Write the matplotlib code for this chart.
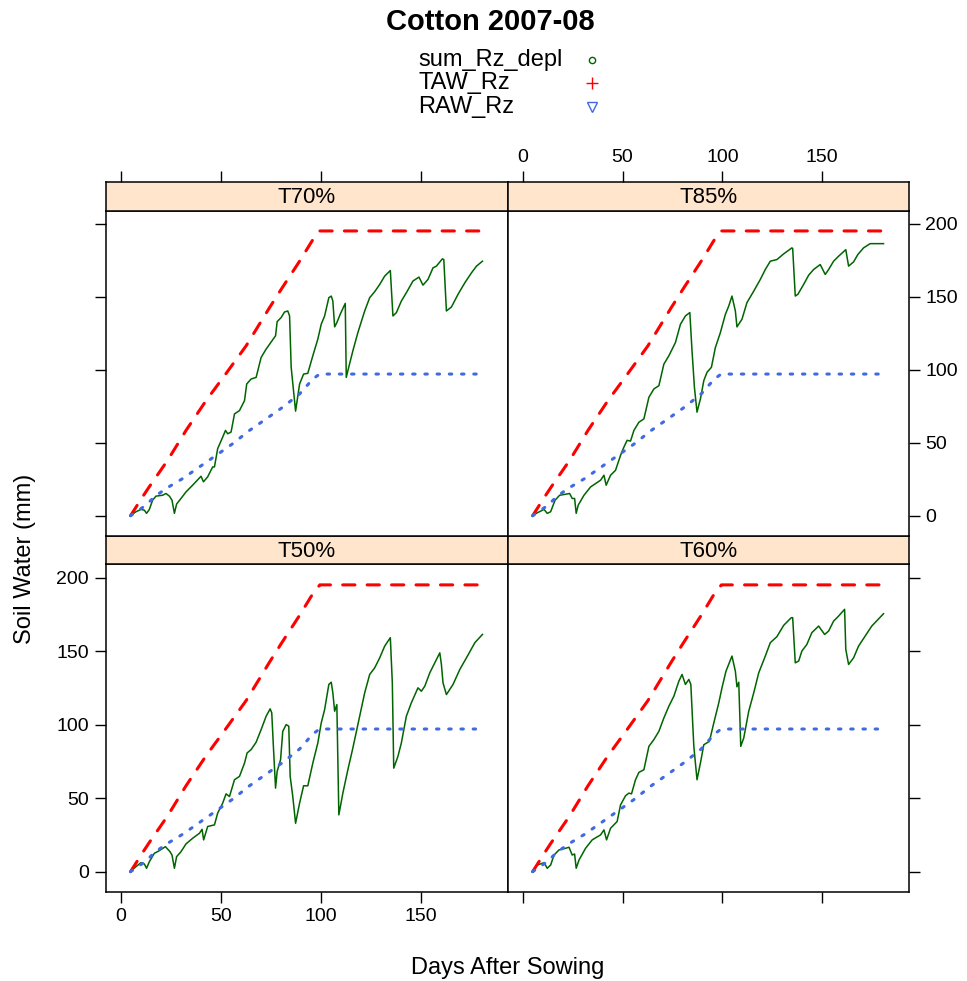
import matplotlib
matplotlib.use("Agg")
import matplotlib.pyplot as plt

plt.rcParams['font.family'] = ['Liberation Sans', 'DejaVu Sans']

# Chart text
title = "Cotton 2007-08"
series_names = ["sum_Rz_depl", "TAW_Rz", "RAW_Rz"]
panel_names = ["T50%", "T60%", "T70%", "T85%"]
x_label = "Days After Sowing"
y_label = "Soil Water (mm)"
x_ticks = [0, 50, 100, 150]
y_ticks = [0, 50, 100, 150, 200]

# Total and readily available water (same in every panel)
taw_days = [5, 11, 14.3, 23.5, 32.7, 42.7, 51.9, 62.7, 74.4, 80.2, 89.4, 96, 99.5, 181]
taw_values = [0, 12.9, 19.7, 37.9, 58.4, 78.8, 95.9, 116.3, 142.5, 155, 174.3, 189, 195, 195]
raw_days = [5, 12.7, 16.9, 22.7, 31, 39.4, 47.7, 56, 64.4, 72.7, 81, 89.4, 96, 99.4, 181]
raw_values = [0, 7.2, 12.9, 18.6, 25.4, 33.4, 41.3, 49.3, 58.4, 66.3, 74.3, 83.4, 93.6, 97, 97]

# Root zone depletion per treatment
t50_days = [4.9, 7.7, 10.2, 11.9, 13, 14.4, 16.9, 19.4, 22.4, 24.7, 25.7, 26.9, 28, 30.2, 32.7,
            36, 39.4, 40.7, 41.5, 43.5, 46.9, 48.5, 51, 52.7, 54.4, 56.9, 59.4, 61.9, 63.2,
            65.2, 67.7, 70.2, 72.7, 74.7, 75.5, 76.4, 77.4, 78.2, 79.9, 81, 82.7, 84, 84.7,
            86, 87.4, 89.4, 91.4, 93.5, 96, 98.5, 100.2, 101.9, 104, 105.2, 106, 106.9, 108,
            109, 111, 113.5, 116, 118.5, 121.9, 124.4, 126.9, 129.4, 131.9, 134.7, 135.7,
            136.4, 138.5, 140.2, 142.7, 145.2, 148.5, 150.2, 151.9, 154.4, 156.9, 159.4,
            160.2, 161, 162.7, 166, 169.4, 172.7, 176.9, 180.7]
t50_depl = [0, 3.4, 6.1, 5.2, 2.3, 6.8, 12.5, 14.3, 17, 13.6, 11.3, 2.3, 10.2, 13.6, 18.9,
            22.7, 26.1, 28.8, 21.6, 30.7, 31.8, 39.8, 46.6, 52.9, 51.1, 62.5, 64.8, 73.8, 80.7,
            83, 88, 96.6, 105.7, 110.7, 108, 83, 56.8, 68.2, 76.1, 95.4, 100, 98.9, 64.8,
            51.1, 32.9, 46.6, 58.4, 58.4, 73.8, 87.5, 101.1, 110.2, 127.3, 128.8, 121.6, 109.1,
            113.6, 38.6, 53.4, 69.3, 84.1, 100, 121.6, 134.1, 138.6, 145.4, 153.4, 159.1, 128.4,
            70.4, 78.4, 87.5, 105.7, 114.8, 125, 122.7, 126.1, 135.2, 142, 148.8,
            140.9, 128.4, 120.4, 127.3, 137.5, 145.4, 155.7, 161.3]

t60_days = [4.8, 7.3, 10.7, 12.3, 14, 15.7, 18.2, 21.5, 23.2, 24.8, 26, 26.8, 28.2, 31.5, 34.8,
            39, 40.7, 42, 44, 47.3, 49, 51.5, 53.2, 54.5, 56.5, 58.2, 60.7, 63.2, 65.7, 68.2,
            70.7, 73.2, 75.7, 78.2, 79.8, 81.5, 83.2, 84.2, 85.7, 87.3, 89, 90.7, 93.5, 95.7,
            98.2, 99.8, 101.8, 104.8, 106.5, 107.3, 108.2, 109.2, 110.7, 113.2, 115.7, 118.2,
            121.5, 124, 127.3, 130.7, 134.5, 135.2, 136.5, 138.2, 139.8, 142.3, 144.8, 148.2,
            151.2, 153.2, 155.7, 158.2, 161.2, 161.8, 163.2, 165.7, 168.2, 171.5, 174.8, 180.7]
t60_depl = [0, 4.5, 6.1, 2.3, 4.5, 11.3, 14.8, 15.9, 16.6, 11.3, 12, 2.3, 7.9, 15.9, 21.6,
            25, 28.4, 21.6, 29.5, 34.1, 45.4, 51.6, 53.4, 52.9, 62.5, 67.5, 69.3, 85.2, 89.8, 95.4,
            104.5, 112.5, 119.3, 129.5, 134.1, 127.3, 130.7, 127.3, 85.2, 62.5, 73.8, 86.3, 88.6, 101.1,
            114.8, 125, 136.3, 146.6, 136.3, 125.7, 128.8, 85.2, 90.9, 109.1, 121.6, 135.2,
            146.6, 155.7, 159.8, 167.5, 172.7, 172.7, 142, 143.2, 150, 154.5, 162.5, 167,
            161.3, 163.6, 170.4, 173.8, 178.4, 151.1, 140.9, 145.4, 153.4, 160.2, 167, 175.4]

t70_days = [4.9, 7.7, 10.2, 11.9, 13, 14.4, 16, 17.7, 21, 22.7, 24.4, 25.7, 26.9, 28, 30.2,
            32.7, 36, 40.2, 41.4, 43.5, 46, 46.9, 48.5, 51, 52.4, 53.5, 55.2, 56.9, 59.4, 61.9,
            63, 65.2, 67.7, 70.2, 72.7, 77.4, 78.2, 80.2, 81.9, 83.5, 84.4, 85.2, 87.4, 89.4,
            91.4, 93.5, 96, 98.5, 100.2, 101.9, 104, 105.2, 106, 106.9, 108, 109.7, 112.2,
            112.7, 113.5, 116, 118.5, 121.9, 124.4, 126.9, 129.4, 131.9, 134.7, 136, 137.7,
            140.2, 142.7, 146, 149, 151, 153.5, 156, 157.7, 160.7, 161.4, 162.7, 165.2, 168.5,
            171.9, 175.2, 177.7, 180.7]
t70_depl = [0, 2.7, 4.3, 3.8, 1.6, 4.3, 10.6, 13.4, 14, 15.2, 13.4, 10.6, 1.6, 8, 11.8,
            16.3, 20.9, 27, 23.2, 26.6, 33.4, 33.4, 45.9, 53.8, 58.4, 56.1, 57.3, 69.7, 72, 78.8,
            90.2, 93.6, 94.7, 108.4, 114.1, 123.2, 132.9, 135.7, 139.5, 140.2, 136.8, 101.6, 71.6, 90.2,
            97, 97.5, 109.5, 120.9, 131.1, 136.8, 149.3, 150.4, 147, 129.3, 132.2, 138, 145.4,
            94.7, 99.3, 112.9, 125.4, 140.2, 149.3, 153.4, 158.4, 164.1, 167.9, 136.8, 139,
            147, 152.7, 160.7, 163.4, 157.9, 161.8, 169.7, 170.9, 175.9, 175.4, 140.2, 142.9, 151.6,
            159.5, 166.3, 170.9, 174.3]

t85_days = [4.8, 7.3, 10.7, 12.3, 14, 16.2, 18.5, 21.5, 23.5, 24.8, 26, 26.8, 27.8, 30.7, 34,
            39, 40.7, 41.8, 44, 46.5, 49, 50.7, 52.3, 54, 55.7, 58.2, 60.7, 63.2, 65.7, 68.2,
            70.7, 73.2, 76.5, 79, 81.5, 83.7, 84.8, 86, 87.3, 89, 90.7, 92.3, 94.5, 96.5, 99,
            101.5, 103.2, 104.8, 106.5, 107.3, 109.8, 112.3, 115.7, 119, 121.5, 124, 127.3,
            130.7, 134.8, 135.2, 136.5, 137.8, 140.7, 143.2, 145.7, 149, 151.5, 153.2, 155.7,
            158.2, 161.8, 163.2, 165.7, 167.8, 170.7, 174, 180.7]
t85_depl = [0, 2, 4.3, 1.6, 2.7, 10.6, 14, 14.7, 15.2, 11.8, 11.8, 1.6, 7.2, 14, 19.7,
            24.3, 27.7, 20.9, 27.7, 31.1, 41.3, 47, 51.6, 51.1, 58.4, 64, 66.3, 81.1, 86.8, 89,
            103.8, 109.5, 118.6, 131.1, 136.8, 139.1, 112.9, 87.9, 70.9, 80, 92.5, 98.2, 101.6, 115.2, 125.4,
            137.9, 143.6, 150.4, 140.2, 129.3, 134.5, 145.9, 153.8, 161.8, 168.6, 174.3, 175.4,
            179.3, 183.4, 183, 150.4, 151.6, 158.4, 164.7, 168.6, 172, 165.2, 168.6, 174.3,
            177.7, 182.2, 170.9, 173.8, 178.8, 183.4, 186.3, 186.3]

depl_days = {"T50%": t50_days, "T60%": t60_days, "T70%": t70_days, "T85%": t85_days}
depl_values = {"T50%": t50_depl, "T60%": t60_depl, "T70%": t70_depl, "T85%": t85_depl}

green = "darkgreen"
red = "red"
blue = "royalblue"
strip_color = "#FFE5CC"

# Layout in pixels (left, top, right, bottom) of a 967 x 981 picture
W, H = 967, 981


def rect(left, top, right, bottom):
    return [left / W, 1 - bottom / H, (right - left) / W, (bottom - top) / H]


cols = {0: (105.5, 507.7), 1: (507.7, 908.7)}
rows = {0: (182.2, 210.5, 535.7), 1: (535.7, 564.3, 891.8)}
# panel -> (column, row, ticks left, ticks bottom, ticks right, ticks top, labels?)
layout = {
    "T50%": (0, 1),
    "T60%": (1, 1),
    "T70%": (0, 0),
    "T85%": (1, 0),
}

fig = plt.figure(figsize=(W / 100, H / 100), dpi=100)

tick_kw = dict(direction='out', length=8, width=1.0, labelsize=14, pad=4)

for name in panel_names:
    c, r = layout[name]
    x0, x1 = cols[c]
    strip_top, plot_top, plot_bottom = rows[r]

    ax = fig.add_axes(rect(x0, plot_top, x1, plot_bottom))
    strip = fig.add_axes(rect(x0, strip_top, x1, plot_top))

    ax.plot(depl_days[name], depl_values[name], color=green, lw=1.1)
    ax.plot(taw_days, taw_values, color=red, lw=2.2, dashes=(4, 4), dash_capstyle='round')
    ax.plot(raw_days, raw_values, color=blue, lw=2.2, dashes=(0.8, 3.2), dash_capstyle='round')

    ax.set_xlim(-7.5, 193.3)
    ax.set_ylim(-13.7, 209)
    strip.set_xlim(-7.5, 193.3)
    strip.set_ylim(0, 1)
    strip.set_facecolor(strip_color)
    strip.text(0.5, 0.45, name, transform=strip.transAxes, ha='center', va='center', fontsize=16)

    for a in (ax, strip):
        for sp in a.spines.values():
            sp.set_linewidth(1.1)

    ax.set_xticks(x_ticks)
    ax.set_yticks(y_ticks)
    strip.set_xticks(x_ticks)
    strip.set_yticks([])

    # lattice style: alternating axes on the outside of the grid
    ax.tick_params(axis='both', **tick_kw)
    ax.tick_params(bottom=(r == 1), labelbottom=(r == 1 and c == 0),
                   left=(c == 0), labelleft=(c == 0 and r == 1),
                   right=(c == 1), labelright=(c == 1 and r == 0),
                   top=False, labeltop=False)
    strip.tick_params(axis='x', **tick_kw)
    strip.tick_params(bottom=False, labelbottom=False,
                      top=(r == 0), labeltop=(r == 0 and c == 1))

# Title and axis labels
fig.text(490.8 / W, 1 - 21.7 / H, title, ha='center', va='center', fontsize=21, fontweight='bold')
fig.text(508 / W, 1 - 968 / H, x_label, ha='center', va='center', fontsize=17)
fig.text(25 / W, 1 - 559 / H, y_label, ha='center', va='center', fontsize=17, rotation=90)

# Key: labels on the left, symbols on the right
key = fig.add_axes([0, 0, 1, 1])
key.set_xlim(0, W)
key.set_ylim(H, 0)
key.axis('off')
key_rows = [60, 83.3, 106.7]
key_markers = [('o', green, 4.5), ('+', red, 8), ('v', blue, 6.5)]
for label, y, (m, col, ms) in zip(series_names, key_rows, key_markers):
    key.text(418.3, y, label, ha='left', va='center', fontsize=17)
    if m == '+':
        key.plot([592], [y], marker=m, color=col, ms=ms, mew=1.0)
    else:
        key.plot([592], [y], marker=m, mfc='none', mec=col, ms=ms, mew=1.0)

fig.savefig("out.png", dpi=100)
